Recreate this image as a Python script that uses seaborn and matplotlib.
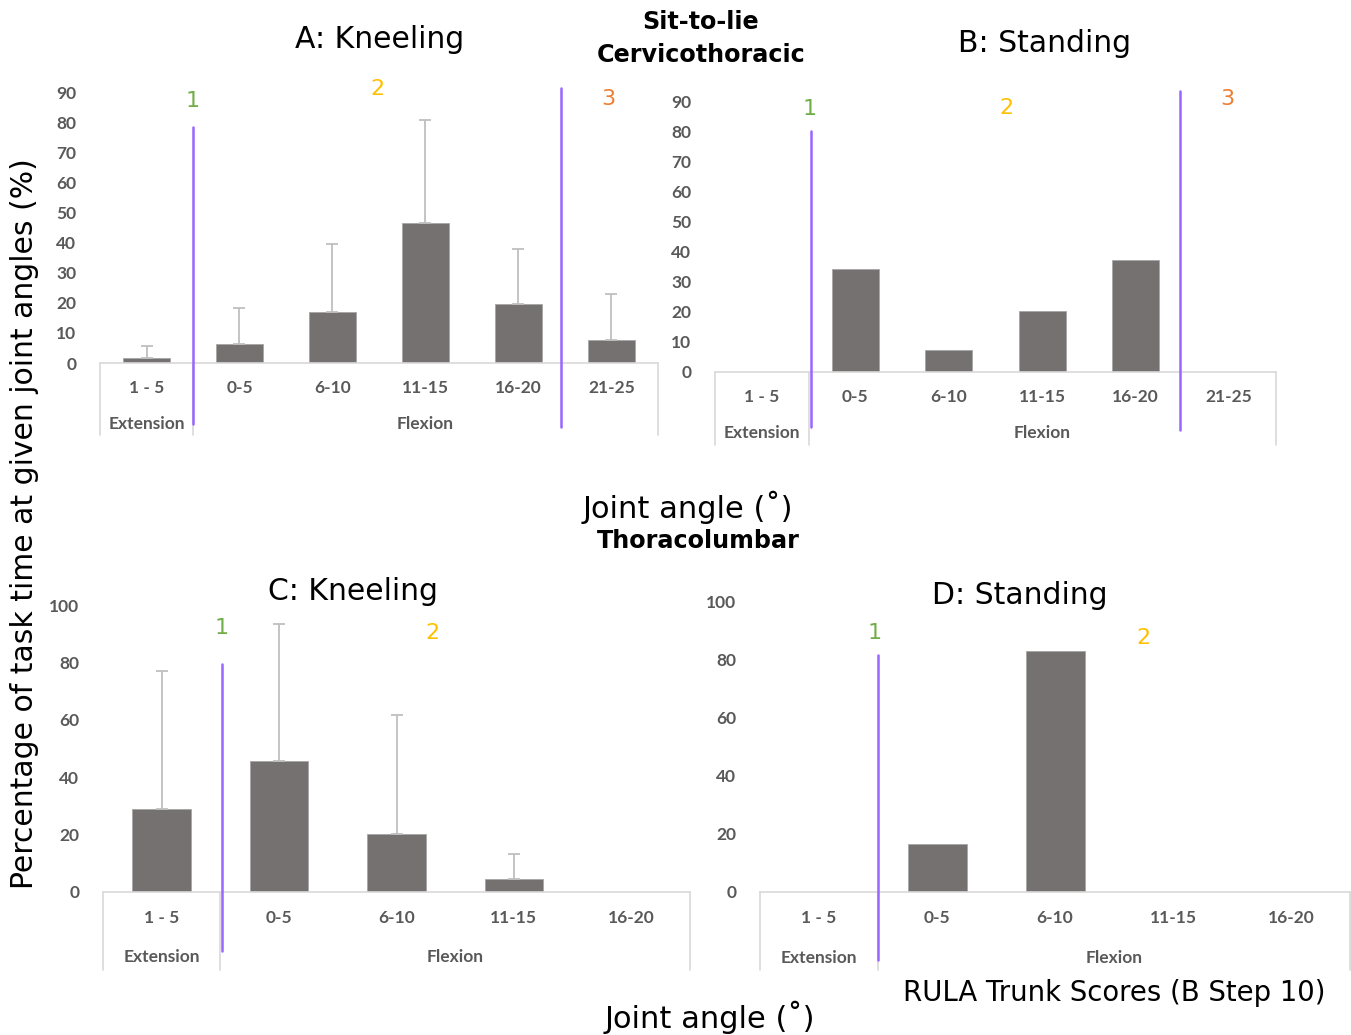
import matplotlib
matplotlib.use("Agg")
import matplotlib.pyplot as plt
import seaborn as sns
import pandas as pd
from matplotlib.lines import Line2D

sns.set_theme(style="white")
plt.rcParams['font.family'] = ['DejaVu Sans']
plt.rcParams['text.color'] = 'black'

# ---------------- data ----------------
cats_cervico = ["1 - 5", "0-5", "6-10", "11-15", "16-20", "21-25"]
cats_thoraco = ["1 - 5", "0-5", "6-10", "11-15", "16-20"]

a_kneel_mean = [1.8, 6.4, 16.9, 46.7, 19.7, 7.6]
a_kneel_sd = [3.8, 11.9, 22.8, 34.1, 18.3, 15.2]

b_stand_mean = [0.0, 34.3, 7.2, 20.4, 37.3, 0.0]

c_kneel_mean = [29.0, 45.7, 20.2, 4.4, 0.0]
c_kneel_sd = [48.1, 47.7, 41.3, 8.9, 0.0]

d_stand_mean = [0.0, 16.6, 83.0, 0.0, 0.0]

group_labels = ["Extension", "Flexion"]

W, H = 1351, 1035
fig = plt.figure(figsize=(W / 100, H / 100), dpi=100)

BAR = "#767171"
GRID = "#D9D9D9"
PURPLE = "#9966FF"
SCORE_COLORS = {"1": "#70AD47", "2": "#FFC000", "3": "#ED7D31"}
TICKFONT = dict(family="Lato", weight="bold", color="#595959", size=12.5)


def fx(x):
    return x / W


def fy(y):
    return 1 - y / H


def make_ax(left, right, top, bottom):
    return fig.add_axes([fx(left), fy(bottom), fx(right) - fx(left), (bottom - top) / H])


def draw_panel(ax, cats, means, sds, ymax, yticks, below_px, lvl1_px, lvl2_px):
    df = pd.DataFrame({"cat": cats, "val": means})
    sns.barplot(data=df, x="cat", y="val", color=BAR, width=0.5, ax=ax,
                edgecolor="#A6A6A6", linewidth=0.6, saturation=1)
    if sds is not None:
        for i, (m, s) in enumerate(zip(means, sds)):
            if s > 0:
                ax.errorbar(i, m, yerr=[[0], [s]], fmt="none", ecolor="#BFBFBF",
                            elinewidth=1.3, capsize=4, capthick=1.3, zorder=1)
    n = len(cats)
    ax.set_xlim(-0.5, n - 0.5)
    ax.set_ylim(0, ymax)
    ax.set_yticks(yticks)
    ax.set_yticklabels([str(t) for t in yticks], **TICKFONT)
    ax.set_xticks([])
    ax.set_xlabel("")
    ax.set_ylabel("")
    for s in ["top", "right", "left"]:
        ax.spines[s].set_visible(False)
    ax.spines["bottom"].set_color(GRID)
    ax.spines["bottom"].set_linewidth(1.2)
    ax.tick_params(axis="y", length=0, pad=17)
    ax.patch.set_alpha(0)
    # multi-level category labels
    tr = ax.get_xaxis_transform()
    for i, c in enumerate(cats):
        ax.annotate(c, xy=(i, 0), xycoords=tr, xytext=(0, -lvl1_px),
                    textcoords="offset pixels", ha="center", va="center", **TICKFONT)
    ax.annotate(group_labels[0], xy=(0, 0), xycoords=tr, xytext=(0, -lvl2_px),
                textcoords="offset pixels", ha="center", va="center", **TICKFONT)
    ax.annotate(group_labels[1], xy=((1 + n - 1) / 2, 0), xycoords=tr, xytext=(0, -lvl2_px),
                textcoords="offset pixels", ha="center", va="center", **TICKFONT)
    hpx = ax.get_position().height * H
    for xb in [-0.5, 0.5, n - 0.5]:
        ax.plot([xb, xb], [0, -below_px / hpx], transform=tr, color=GRID,
                lw=1.2, clip_on=False, zorder=0)


# ---- panel axes (pixel positions) ----
axA = make_ax(100, 658, 92.5, 363)
axB = make_ax(715, 1276, 101.5, 372)
axC = make_ax(103, 690, 605, 892)
axD = make_ax(760, 1350, 602, 892)

ticks90 = list(range(0, 91, 10))
ticks100 = list(range(0, 101, 20))
draw_panel(axA, cats_cervico, a_kneel_mean, a_kneel_sd, 90, ticks90, 72, 25, 61)
draw_panel(axB, cats_cervico, b_stand_mean, None, 90, ticks90, 73, 25, 61)
draw_panel(axC, cats_thoraco, c_kneel_mean, c_kneel_sd, 100, ticks100, 78, 26, 65)
draw_panel(axD, cats_thoraco, d_stand_mean, None, 100, ticks100, 78, 26, 66)

# ---- RULA score boundary lines (pixel coords) ----
score_lines = [(193, 127, 424), (561, 88, 427), (811, 131, 427), (1180, 91, 430),
               (222, 664, 951), (878, 655, 960)]
for x, y0, y1 in score_lines:
    fig.add_artist(Line2D([fx(x), fx(x)], [fy(y0), fy(y1)], color=PURPLE, lw=1.8))

score_labels = [("1", 193, 101), ("2", 377, 89), ("3", 608, 99),
                ("1", 810, 109), ("2", 1006, 108), ("3", 1227, 99),
                ("1", 222, 628), ("2", 432, 633),
                ("1", 875, 633), ("2", 1143, 638)]
for t, x, y in score_labels:
    fig.text(fx(x), fy(y), t, color=SCORE_COLORS[t], fontsize=16,
             ha="center", va="center")

# ---- titles ----
fig.text(fx(380), fy(40), "A: Kneeling", fontsize=21.5, ha="center", va="center")
fig.text(fx(1045), fy(43), "B: Standing", fontsize=21.5, ha="center", va="center")
fig.text(fx(353), fy(592), "C: Kneeling", fontsize=21.5, ha="center", va="center")
fig.text(fx(1020), fy(595), "D: Standing", fontsize=21.5, ha="center", va="center")
fig.text(fx(701), fy(22), "Sit-to-lie", fontsize=17.2, weight="bold", ha="center", va="center")
fig.text(fx(701), fy(55), "Cervicothoracic", fontsize=17.2, weight="bold", ha="center", va="center")
fig.text(fx(698), fy(541), "Thoracolumbar", fontsize=17.2, weight="bold", ha="center", va="center")
fig.text(fx(688), fy(507), "Joint angle (\u02da)", fontsize=22, ha="center", va="center")
fig.text(fx(710), fy(1017), "Joint angle (\u02da)", fontsize=22, ha="center", va="center")
fig.text(fx(1114), fy(993), "RULA Trunk Scores (B Step 10)", fontsize=19.8, ha="center", va="center")
fig.text(fx(25), fy(524), "Percentage of task time at given joint angles (%)", fontsize=21.5,
         rotation=90, ha="center", va="center")

fig.savefig("out.png", dpi=100)
